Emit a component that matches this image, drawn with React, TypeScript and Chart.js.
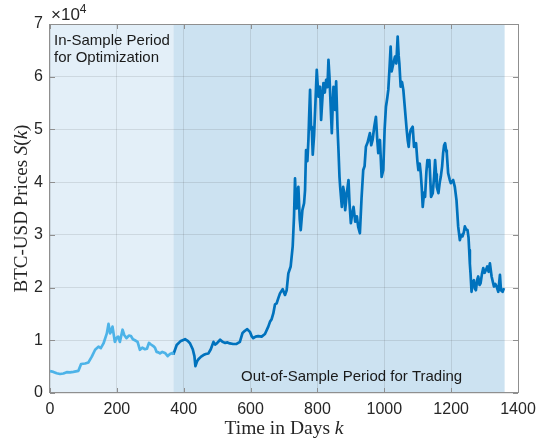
import React, { useEffect, useRef } from "react";
import { Chart, registerables } from "chart.js";

Chart.register(...registerables);

// Period boundaries (days)
const periodBounds = [0, 369, 1360];
const periodLabels = ["In-Sample Period|for Optimization", "Out-of-Sample Period for Trading"];

const xTickValues = [0, 200, 400, 600, 800, 1000, 1200, 1400];
const yTickValues = [0, 10000, 20000, 30000, 40000, 50000, 60000, 70000];

// In-sample period (days, USD)
const inDays = [0, 10, 20, 30, 40, 50, 60, 70, 85, 93, 105, 115, 125, 135, 145, 152, 160, 170, 175, 180, 187, 194, 200, 204, 209, 217, 222, 229, 236, 242, 248, 254, 262, 269, 276, 284, 290, 296, 302, 309, 314, 319, 324, 329, 336, 344, 352, 359, 366, 369];
const inPrices = [4150, 4000, 3750, 3600, 3700, 3950, 3900, 4000, 4200, 5500, 5600, 5800, 6900, 8200, 8800, 8500, 9400, 11300, 13100, 11300, 12600, 9700, 10500, 10700, 9700, 12000, 11000, 10400, 10900, 10800, 10200, 10000, 9700, 8200, 8600, 8300, 8400, 9500, 9200, 8900, 8600, 7800, 7700, 7500, 7800, 7600, 7000, 7400, 7600, 7300];

// Out-of-sample period (days, USD)
const outDays = [369, 379, 390, 404, 412, 419, 427, 432, 435, 440, 444, 452, 459, 466, 474, 481, 489, 494, 499, 509, 516, 524, 531, 538, 548, 558, 568, 576, 583, 590, 598, 603, 608, 615, 623, 633, 643, 653, 658, 663, 668, 673, 678, 683, 688, 696, 703, 708, 713, 720, 726, 730, 733, 736, 738, 743, 747, 750, 755, 760, 763, 766, 770, 773, 775, 778, 781, 783, 786, 790, 794, 798, 803, 808, 811, 815, 818, 822, 826, 830, 833, 836, 838, 843, 846, 848, 853, 856, 860, 863, 866, 868, 873, 877, 880, 883, 888, 893, 896, 900, 904, 908, 913, 918, 922, 927, 932, 937, 941, 945, 950, 957, 961, 965, 970, 975, 979, 982, 987, 992, 997, 1001, 1005, 1009, 1012, 1016, 1019, 1022, 1025, 1029, 1032, 1036, 1040, 1043, 1045, 1049, 1053, 1057, 1062, 1067, 1070, 1073, 1076, 1079, 1085, 1089, 1095, 1099, 1102, 1106, 1109, 1112, 1115, 1119, 1122, 1126, 1129, 1132, 1135, 1138, 1140, 1145, 1149, 1152, 1155, 1157, 1162, 1166, 1169, 1173, 1176, 1179, 1182, 1185, 1187, 1191, 1196, 1199, 1206, 1211, 1216, 1221, 1226, 1230, 1234, 1238, 1241, 1245, 1249, 1252, 1254, 1256, 1258, 1261, 1264, 1268, 1271, 1274, 1278, 1281, 1285, 1288, 1292, 1296, 1300, 1304, 1308, 1312, 1316, 1321, 1325, 1328, 1332, 1336, 1341, 1346, 1349, 1354, 1358];
const outPrices = [7300, 9100, 9800, 10200, 9900, 9400, 8300, 7000, 5100, 6000, 6400, 6900, 7200, 7400, 7500, 8300, 9700, 9200, 9400, 10100, 9700, 9500, 9600, 9400, 9300, 9300, 9700, 11400, 11800, 12100, 11600, 10800, 10400, 10700, 10800, 10700, 11200, 12600, 13500, 14000, 15100, 16800, 17000, 18000, 18900, 19700, 18600, 19500, 22700, 24000, 27800, 33500, 40700, 35000, 37900, 39100, 33000, 30900, 34700, 36000, 38500, 46100, 44000, 48000, 52000, 57500, 50000, 50500, 45200, 48900, 55000, 61300, 56200, 58100, 51800, 56000, 58800, 57000, 59400, 58000, 63200, 60000, 56900, 49300, 55000, 58100, 53700, 59100, 50500, 46000, 41000, 39100, 35300, 39100, 38000, 34700, 37900, 40400, 36000, 32200, 34000, 35300, 32500, 33500, 31500, 30300, 37000, 42300, 43000, 46700, 47500, 49300, 47000, 48000, 50500, 52400, 48000, 45500, 48000, 41000, 42300, 50000, 54300, 56000, 57500, 62000, 65700, 61000, 61900, 63000, 63800, 62500, 67600, 64000, 62600, 58100, 59000, 57500, 53700, 49900, 48000, 46700, 49000, 49900, 50500, 46700, 47400, 44000, 42300, 43500, 41700, 39000, 35300, 38000, 37200, 42000, 44200, 43000, 44200, 40000, 37200, 37900, 41000, 44200, 41500, 39100, 37900, 40000, 41000, 43000, 45500, 47000, 47400, 46000, 45500, 41700, 40400, 39800, 40400, 39100, 36600, 31600, 29000, 30000, 29700, 30500, 31600, 31000, 30900, 29500, 27100, 24500, 22700, 19200, 21000, 21400, 19800, 19500, 21500, 22100, 20500, 20800, 22500, 23700, 22800, 23300, 24000, 23000, 24600, 22100, 21000, 20200, 20700, 20200, 19200, 22400, 19500, 19200, 19900];

const AXIS_COLOR = "#8f8f8f";
const TEXT_COLOR = "#262626";
const SANS = "'Liberation Sans', Arial, sans-serif";
const SERIF = "'Liberation Serif', 'Times New Roman', serif";

function drawMixed(ctx: CanvasRenderingContext2D, parts: [string, boolean][], cx: number, y: number, size: number) {
  const fontFor = (it: boolean) => `${it ? "italic " : ""}${size}px ${SERIF}`;
  let total = 0;
  for (const [t, it] of parts) {
    ctx.font = fontFor(it);
    total += ctx.measureText(t).width;
  }
  let x = cx - total / 2;
  ctx.textAlign = "left";
  ctx.textBaseline = "alphabetic";
  for (const [t, it] of parts) {
    ctx.font = fontFor(it);
    ctx.fillText(t, x, y);
    x += ctx.measureText(t).width;
  }
}

const decorPlugin = {
  id: "decor",
  beforeDraw(chart: any) {
    const { ctx, chartArea, scales } = chart;
    const xs = scales.x;
    ctx.save();
    const fills = ["#E3EFF8", "#CCE2F1"];
    for (let i = 0; i < periodBounds.length - 1; i++) {
      const a = xs.getPixelForValue(periodBounds[i]);
      const b = xs.getPixelForValue(periodBounds[i + 1]);
      ctx.fillStyle = fills[i];
      ctx.fillRect(a, chartArea.top, b - a, chartArea.bottom - chartArea.top);
    }
    ctx.restore();
  },
  afterDraw(chart: any) {
    const { ctx, chartArea, scales } = chart;
    const { left, right, top, bottom } = chartArea;
    const xs = scales.x;
    const ys = scales.y;
    ctx.save();
    // box
    ctx.strokeStyle = AXIS_COLOR;
    ctx.lineWidth = 1;
    ctx.strokeRect(Math.round(left) - 0.5, Math.round(top) + 0.5, Math.round(right - left) + 1, Math.round(bottom - top) - 1);
    // inward ticks
    ctx.beginPath();
    for (const v of xTickValues) {
      const px = Math.round(xs.getPixelForValue(v)) + 0.5;
      ctx.moveTo(px, bottom);
      ctx.lineTo(px, bottom - 5);
      ctx.moveTo(px, top);
      ctx.lineTo(px, top + 5);
    }
    for (const v of yTickValues) {
      const py = Math.round(ys.getPixelForValue(v)) + 0.5;
      ctx.moveTo(left, py);
      ctx.lineTo(left + 5, py);
      ctx.moveTo(right, py);
      ctx.lineTo(right - 5, py);
    }
    ctx.stroke();

    // exponent label
    ctx.fillStyle = TEXT_COLOR;
    ctx.textAlign = "left";
    ctx.textBaseline = "alphabetic";
    ctx.font = `17px ${SANS}`;
    ctx.fillText("\u00d710", left + 1, 20);
    const w = ctx.measureText("\u00d710").width;
    ctx.font = `12px ${SANS}`;
    ctx.fillText("4", left + 1 + w, 13);

    // period annotations
    ctx.fillStyle = "#1a1a1a";
    ctx.font = `15px ${SANS}`;
    const lines = periodLabels[0].split("|");
    ctx.fillText(lines[0], xs.getPixelForValue(periodBounds[0]) + 4, 45);
    ctx.fillText(lines[1], xs.getPixelForValue(periodBounds[0]) + 4, 62);
    ctx.fillText(periodLabels[1], 241, 381);

    // axis titles
    ctx.fillStyle = TEXT_COLOR;
    drawMixed(ctx, [["Time in Days ", false], ["k", true]], (left + right) / 2, 434, 19.5);
    ctx.save();
    ctx.translate(26.5, (top + bottom) / 2);
    ctx.rotate(-Math.PI / 2);
    drawMixed(ctx, [["BTC-USD Prices ", false], ["S", true], ["(", false], ["k", true], [")", false]], 0, 0, 19);
    ctx.restore();
    ctx.restore();
  },
};

export default function App() {
  const ref = useRef<HTMLCanvasElement | null>(null);
  useEffect(() => {
    if (!ref.current) return;
    const chart = new Chart(ref.current, {
      type: "scatter",
      data: {
        datasets: [
          {
            data: inDays.map((d, i) => ({ x: d, y: inPrices[i] })),
            showLine: true,
            borderColor: "#4DB3E8",
            borderWidth: 2.7,
            pointRadius: 0,
            borderJoinStyle: "round",
          },
          {
            data: outDays.map((d, i) => ({ x: d, y: outPrices[i] })),
            showLine: true,
            borderColor: "#0072BD",
            borderWidth: 2.7,
            pointRadius: 0,
            borderJoinStyle: "round",
          },
        ],
      },
      options: {
        animation: false,
        responsive: false,
        events: [],
        layout: { padding: { top: 24, right: 18, left: 0, bottom: 0 } },
        plugins: { legend: { display: false }, tooltip: { enabled: false } },
        scales: {
          x: {
            type: "linear",
            min: 0,
            max: 1400,
            afterBuildTicks: (s: any) => { s.ticks = xTickValues.map((v) => ({ value: v })); },
            afterFit: (s: any) => { s.height = 51; s.paddingLeft = 0; s.paddingRight = 0; },
            ticks: { color: TEXT_COLOR, font: { family: SANS, size: 16 }, padding: 7, maxRotation: 0, callback: (v: any) => String(v) },
            grid: { color: "rgba(60,60,60,0.13)", drawTicks: false },
            border: { display: false },
          },
          y: {
            min: 0,
            max: 70000,
            afterBuildTicks: (s: any) => { s.ticks = yTickValues.map((v) => ({ value: v })); },
            afterFit: (s: any) => { s.width = 50; s.paddingTop = 0; s.paddingBottom = 0; },
            ticks: { color: TEXT_COLOR, font: { family: SANS, size: 16 }, padding: 7, callback: (v: any) => String(Number(v) / 10000) },
            grid: { color: "rgba(60,60,60,0.13)", drawTicks: false },
            border: { display: false },
          },
        },
      },
      plugins: [decorPlugin],
    });
    return () => chart.destroy();
  }, []);
  return (
    <div style={{ position: "fixed", left: 0, top: 0, width: 536, height: 444, background: "#fff" }}>
      <canvas ref={ref} width={536} height={444} style={{ width: 536, height: 444, display: "block" }} />
    </div>
  );
}
